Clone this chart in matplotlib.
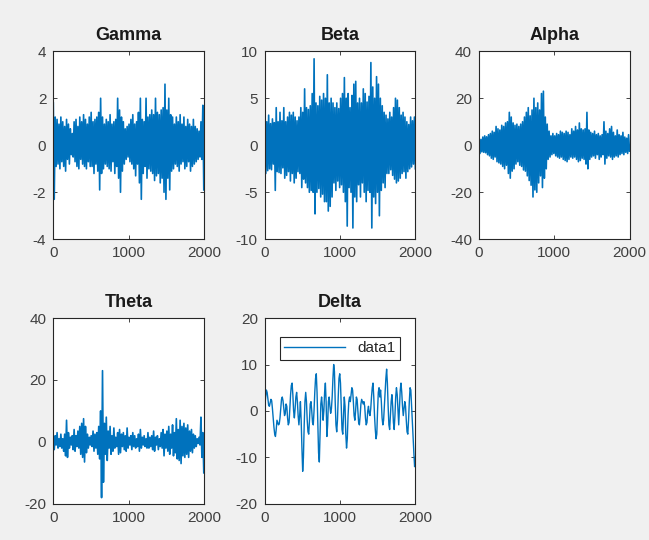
import matplotlib
matplotlib.use("Agg")
import matplotlib.pyplot as plt
import numpy as np

plt.rcParams['font.family'] = ['Liberation Sans', 'DejaVu Sans']
plt.rcParams['axes.unicode_minus'] = False

# band signals (coarse samples)
gamma = [1.8, -2.3, 1.2, -0.9, 1.1, -0.8, 0.9, -1.0, 1.2, -0.7,
         1.0, -0.9, 0.8, -1.1, 1.1, -0.6, 0.9, -0.8, 0.7, -0.4,
         0.5, -0.5, 1.0, -0.7, 1.1, -0.9, 0.8, -1.0, 1.2, -0.6,
         1.0, -0.8, 1.3, -0.9, 1.1, -1.0, 0.9, -0.7, 1.2, -0.9,
         1.4, -0.9, 1.0, -1.2, 1.1, -0.8, 1.2, -1.1, 1.4, -1.9,
         2.0, -1.2, 1.2, -1.0, 0.9, -0.8, 1.1, -0.9, 1.0, -1.0,
         1.3, -1.1, 0.9, -0.7, 1.0, -1.2, 1.1, -0.9, 2.0, -1.4,
         1.5, -2.0, 1.2, -1.1, 1.0, -0.8, 0.7, -0.6, 0.8, -0.5,
         0.9, -0.7, 1.1, -0.8, 1.3, -1.0, 0.9, -1.3, 1.0, -0.8,
         1.4, -1.6, 2.0, -2.3, 1.1, -1.2, 1.0, -0.9, 2.0, -1.4,
         1.2, -1.0, 1.3, -1.1, 1.5, -1.2, 1.3, -1.5, 2.0, -1.3,
         1.4, -1.2, 1.3, -1.6, 1.5, -1.4, 1.6, -2.0, 2.6, -2.3,
         1.5, -1.4, 2.0, -1.9, 1.3, -1.1, 1.2, -1.0, 0.9, -0.8,
         1.2, -0.9, 1.0, -1.1, 1.3, -0.8, 0.9, -0.7, 1.2, -1.0,
         0.8, -0.9, 1.1, -0.7, 0.9, -1.1, 0.8, -0.9, 1.1, -0.8,
         0.8, -0.7, 0.7, -0.6, 0.6, -0.5, 1.0, -0.6, 1.7, -1.9]

beta = [3.0, -3.0, 2.5, -2.7, 3.2, -2.5, 2.3, -2.6, 2.8, -2.0,
        2.4, -4.8, 4.0, -2.8, 2.5, -2.9, 3.5, -3.0, 2.6, -2.4,
        4.0, -3.5, 2.5, -3.2, 3.0, -2.8, 3.5, -3.8, 3.2, -3.0,
        3.5, -4.0, 3.0, -3.5, 2.6, -2.8, 3.0, -3.0, 4.0, -4.5,
        3.5, -3.6, 6.0, -4.0, 4.0, -4.5, 3.8, -5.0, 4.2, -4.8,
        5.5, -5.0, 9.2, -7.3, 4.5, -5.0, 4.2, -4.6, 5.2, -5.5,
        4.8, -5.2, 5.5, -6.0, 5.0, -6.0, 7.5, -7.0, 4.5, -6.5,
        5.0, -5.5, 4.5, -4.0, 4.0, -4.8, 4.5, -3.8, 3.9, -4.5,
        5.0, -4.2, 5.5, -5.0, 7.2, -6.0, 5.0, -8.6, 5.5, -4.5,
        4.0, -5.0, 5.3, -8.8, 6.5, -5.5, 6.8, -6.0, 4.5, -4.2,
        5.0, -5.5, 4.5, -4.0, 6.0, -5.0, 5.5, -6.0, 4.6, -4.8,
        5.2, -5.0, 8.8, -8.8, 6.2, -5.5, 5.0, -6.2, 7.3, -5.0,
        6.5, -7.5, 5.0, -4.8, 4.2, -4.0, 3.5, -4.5, 3.2, -3.0,
        2.8, -3.0, 3.5, -2.6, 3.0, -3.2, 4.0, -3.6, 5.0, -4.0,
        4.8, -3.8, 4.0, -3.5, 3.2, -3.0, 3.5, -2.8, 3.0, -3.5,
        2.5, -2.8, 2.2, -2.5, 3.0, -2.3, 2.6, -2.0, 3.0, -2.5]

alpha = [3.0, -3.5, 2.5, -2.8, 3.5, -3.0, 4.0, -3.2, 3.6, -4.0,
         4.5, -4.5, 5.0, -5.5, 6.0, -6.0, 5.5, -5.0, 8.0, -7.0,
         7.0, -7.5, 6.5, -8.0, 8.5, -9.0, 8.0, -10.0, 9.5, -8.5,
         10.0, -12.0, 14.0, -14.0, 12.0, -11.0, 9.5, -10.0, 8.5, -8.0,
         9.0, -7.0, 8.0, -8.5, 9.0, -9.0, 10.0, -10.5, 12.0, -11.0,
         14.0, -13.0, 16.0, -15.0, 12.5, -17.0, 15.0, -22.0, 20.0, -19.0,
         16.0, -20.0, 18.0, -16.0, 15.0, -13.0, 22.0, -18.0, 23.0, -14.0,
         12.0, -10.0, 9.0, -6.0, 6.0, -5.0, 4.0, -4.0, 5.0, -3.5,
         4.0, -4.5, 5.0, -5.0, 4.5, -5.5, 6.0, -5.0, 5.5, -6.0,
         5.0, -6.5, 6.0, -7.0, 5.5, -6.0, 4.5, -5.0, 7.0, -5.5,
         6.0, -5.0, 8.0, -6.0, 6.5, -7.0, 9.5, -6.5, 7.0, -5.5,
         6.5, -6.0, 7.0, -8.0, 14.0, -10.0, 6.5, -6.0, 5.5, -5.0,
         5.0, -4.5, 6.0, -5.5, 4.5, -4.0, 5.0, -6.0, 4.0, -5.0,
         4.5, -4.0, 10.0, -8.0, 6.0, -5.5, 5.0, -4.5, 7.0, -5.0,
         8.0, -6.0, 5.5, -5.0, 4.0, -4.5, 6.5, -5.0, 4.5, -4.0,
         4.0, -3.5, 5.5, -4.0, 3.5, -3.0, 3.0, -3.5, 4.5, -2.5]

theta = [1.5, -2.5, 2.0, -1.0, 3.0, -2.0, 1.0, -1.5, 2.5, -2.0,
         1.0, -3.0, 2.5, -4.5, 7.0, -5.0, 3.0, -2.0, 1.5, -1.0,
         2.0, -2.5, 4.0, -3.0, 2.0, -1.5, 3.5, -2.0, 5.0, -4.0,
         6.0, -5.0, 7.5, -6.5, 5.0, -3.5, 2.5, -2.0, 1.5, -1.0,
         2.0, -1.5, 3.5, -3.0, 2.5, -2.0, 3.0, -4.0, 5.0, -5.5,
         10.0, -18.0, 23.0, -13.0, 6.0, -4.0, 8.0, -6.0, 3.5, -2.0,
         5.0, -4.0, 2.0, -3.0, 4.5, -2.0, 1.5, -1.5, 3.0, -4.0,
         4.0, -3.5, 2.5, -1.5, 3.0, -2.5, 2.0, -3.0, 4.5, -2.0,
         1.5, -1.0, 2.0, -2.5, 3.0, -1.5, 2.0, -2.0, 1.0, -1.5,
         2.5, -3.0, 4.0, -2.0, 1.5, -1.0, 2.0, -1.5, 1.0, -2.0,
         3.0, -2.0, 1.5, -1.5, 2.0, -2.5, 3.5, -3.0, 1.5, -1.0,
         2.0, -2.5, 1.0, -1.5, 3.0, -2.0, 4.0, -4.5, 2.5, -2.0,
         3.5, -3.0, 5.0, -4.0, 2.5, -2.0, 5.5, -4.5, 3.0, -3.5,
         7.5, -5.5, 4.0, -6.0, 7.0, -7.0, 5.0, -4.5, 6.0, -5.0,
         4.5, -4.0, 5.5, -5.0, 3.5, -3.0, 4.0, -3.5, 2.5, -2.0,
         2.0, -1.5, 1.0, -0.5, 1.5, -1.0, 8.0, -5.0, 3.0, -10.0]

delta = [1.0, 3.0, 4.5, 4.0, 2.5, 1.2, 1.0, 1.8, 2.5, 2.2,
         0.5, -1.5, -3.5, -5.0, -5.5, -4.0, -2.0, -2.5, -3.0, -2.8,
         -1.5, 0.5, 2.5, 3.0, 2.2, 0.5, -1.0, -0.5, 1.5, 1.0,
         -1.5, -3.0, -2.5, 0.5, 3.5, 5.5, 6.0, 3.5, 0.0, -1.5,
         0.5, 3.0, 4.0, 2.0, -1.0, -3.0, -1.0, 2.0, -2.0, -8.0,
         -13.0, -10.0, -3.0, 2.0, 4.0, 2.0, -2.0, -4.5, -5.0, -2.0,
         1.5, 2.0, 0.0, -2.5, -3.0, 0.0, 4.0, 7.0, 8.0, 4.0,
         -3.0, -9.0, -11.0, -5.0, 1.5, 3.0, 1.0, -2.0, 0.0, 4.0,
         6.0, 2.0, -5.5, -3.0, 2.0, 3.0, 1.0, -0.5, 0.5, 3.0,
         7.0, 10.0, 8.5, 2.0, -3.0, -4.5, -2.0, 3.0, 7.0, 8.0,
         6.0, 1.0, -4.0, -5.0, -1.0, 3.0, 1.0, -5.0, -8.0, -6.0,
         -1.0, 2.0, 3.0, 2.0, 3.5, 5.0, 4.5, 2.0, -1.0, -2.0,
         0.0, 3.0, 2.5, 0.0, -2.5, -3.0, -1.0, 1.5, 2.5, 2.0,
         1.5, 2.0, 1.0, -1.5, -3.0, -2.5, 0.0, 1.0, -0.5, -1.0,
         0.5, 3.0, 5.0, 6.0, 3.0, -1.0, -4.0, -6.0, -5.0, 0.0,
         4.0, 5.0, 3.0, 4.5, 2.0, -1.5, -3.0, -2.0, 1.0, 4.0,
         7.0, 9.0, 6.0, 1.0, -3.0, -4.0, -1.0, 2.0, 3.5, 1.0,
         -2.5, -4.0, -1.0, 3.0, 5.0, 3.5, 0.0, -3.0, 1.0, 4.5,
         6.0, 4.0, 1.0, -1.0, 0.5, 2.0, 1.0, -2.0, -4.5, -5.0,
         -2.0, 2.0, 5.0, 4.5, 1.0, -3.0, -6.0, -9.0, -12.0, -10.0]

titles = ['Gamma', 'Beta', 'Alpha', 'Theta', 'Delta']
series = [gamma, beta, alpha, theta, delta]
ylims = [(-4, 4), (-10, 10), (-40, 40), (-20, 40), (-20, 20)]
yticks = [[-4, -2, 0, 2, 4], [-10, -5, 0, 5, 10], [-40, -20, 0, 20, 40],
          [-20, 0, 20, 40], [-20, -10, 0, 10, 20]]

# axes boxes in figure fractions [left, bottom, width, height]
boxes = [[0.082, 0.557, 0.232, 0.348],
         [0.408, 0.557, 0.232, 0.348],
         [0.738, 0.557, 0.232, 0.348],
         [0.082, 0.067, 0.232, 0.344],
         [0.408, 0.067, 0.232, 0.344]]

blue = '#0072BD'
axcol = '#262626'
fig = plt.figure(figsize=(6.49, 5.40), dpi=100, facecolor='#f0f0f0')

for k in range(5):
    ax = fig.add_axes(boxes[k])
    y = np.array(series[k])
    x = np.linspace(1, 2000, len(y))
    lw = 1.2 if k < 4 else 1.0
    ax.plot(x, y, color=blue, lw=lw, label='data1')
    ax.set_xlim(0, 2000)
    ax.set_ylim(*ylims[k])
    ax.set_xticks([0, 1000, 2000])
    ax.set_yticks(yticks[k])
    ax.set_title(titles[k], fontsize=13, fontweight='bold', color='#1a1a1a', pad=8)
    ax.tick_params(direction='in', top=True, right=True, length=3, width=0.6,
                   labelsize=11, colors=axcol, labelcolor='#404040', pad=5)
    for s in ax.spines.values():
        s.set_color(axcol)
        s.set_linewidth(0.8)
    if k == 4:
        leg = ax.legend(loc='upper center', bbox_to_anchor=(0.5, 0.94), fontsize=11,
                        handlelength=4.0, fancybox=False, framealpha=1,
                        borderpad=0.3, labelcolor='#262626')
        leg.get_frame().set_edgecolor(axcol)
        leg.get_frame().set_linewidth(0.8)

fig.savefig('out.png', dpi=100, facecolor=fig.get_facecolor())
